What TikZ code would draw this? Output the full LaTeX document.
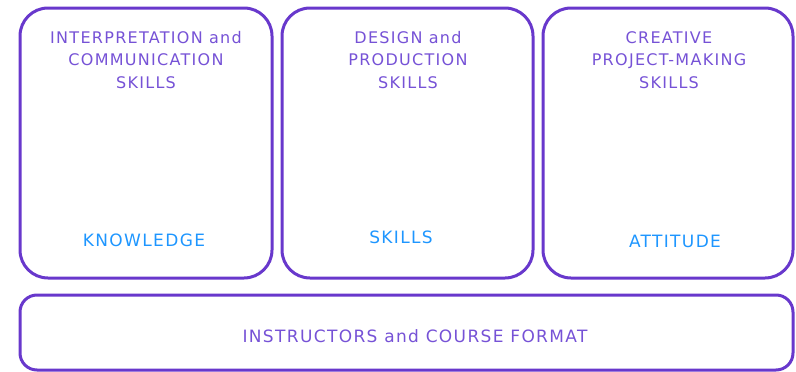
\documentclass[tikz,border=0pt]{standalone}
\usepackage{fontspec}
\usepackage{xcolor}
\usepackage{tikz}
\usetikzlibrary{positioning}
\newfontfamily\boxfont[LetterSpace=8]{DejaVu Sans}

\definecolor{boxline}{RGB}{104,56,204}
\definecolor{titletext}{RGB}{118,82,214}
\definecolor{labeltext}{RGB}{30,150,255}

\begin{document}
\begin{tikzpicture}[x=1pt,y=-1pt,
  every node/.style={inner sep=0pt,outer sep=0pt},
  skillbox/.style={draw=boxline,line width=3pt,rounded corners=28pt,
    minimum width=251pt,minimum height=270pt},
  basebox/.style={draw=boxline,line width=3pt,rounded corners=17pt,
    minimum width=773pt,minimum height=75pt},
  title/.style={text=titletext,align=center,
    font=\boxfont\fontsize{16}{22.5}\selectfont},
  label/.style={text=labeltext,font=\boxfont\fontsize{17}{20}\selectfont}]

  \useasboundingbox (0,0) rectangle (796,372);

  % top row
  \def \y {143}
  \node[skillbox,minimum width=252pt] (know) at (146,\y) {};
  \node[skillbox] (skill) at (407.5,\y) {};
  \node[skillbox,minimum width=250pt] (attit) at (668,\y) {};

  \node[title] (knowtitle) at (146,60) {INTERPRETATION and\\COMMUNICATION\\SKILLS};
  \node[title] (skilltitle) at (408,60) {DESIGN and\\PRODUCTION\\SKILLS};
  \node[title] (attittitle) at (669,60) {CREATIVE\\PROJECT-MAKING\\SKILLS};

  \node[label] (knowlabel) at (144,240) {KNOWLEDGE};
  \node[label] (skilllabel) at (401,237) {SKILLS};
  \node[label] (attitlabel) at (675,241) {ATTITUDE};

  % base
  \node[basebox] (base) at (406.5,332.5) {};
  \node[title,font=\boxfont\fontsize{17}{20}\selectfont] (basetitle) at (415,336) {INSTRUCTORS and COURSE FORMAT};

\end{tikzpicture}
\end{document}
